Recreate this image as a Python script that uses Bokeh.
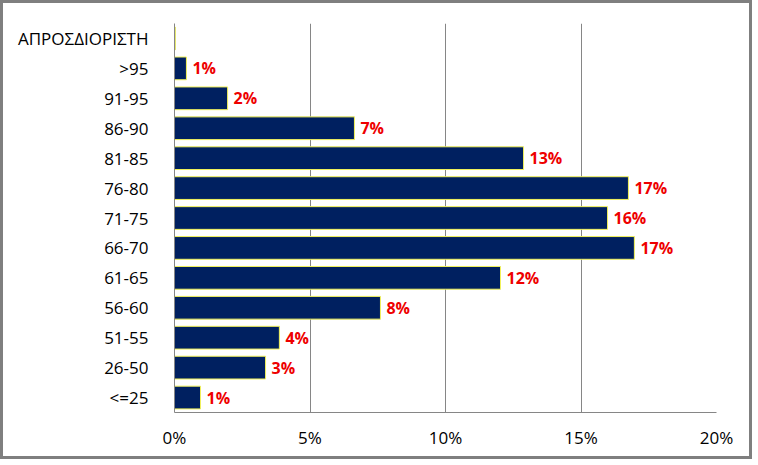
from bokeh.plotting import figure
from bokeh.models import ColumnDataSource, FixedTicker, PrintfTickFormatter, LabelSet
from bokeh.core.properties import value
from bokeh.embed import file_html
from bokeh.resources import INLINE

categories = ["<=25", "26-50", "51-55", "56-60", "61-65", "66-70", "71-75",
              "76-80", "81-85", "86-90", "91-95", ">95", "ΑΠΡΟΣΔΙΟΡΙΣΤΗ"]
values = [0.96, 3.36, 3.87, 7.6, 12.03, 16.97, 15.98, 16.75, 12.88, 6.64, 1.96, 0.44, 0.03]
labels = ["1%", "3%", "4%", "8%", "12%", "17%", "16%", "17%", "13%", "7%", "2%", "1%", ""]
x_ticks = [0, 5, 10, 15, 20]

FONT = "Open Sans"
GRAY = "#868686"

src = ColumnDataSource(dict(cat=categories, val=values, lab=labels))

p = figure(width=752, height=459, y_range=categories, x_range=(0, 20),
           output_backend="svg", toolbar_location=None,
           min_border_left=171, min_border_right=39, min_border_top=20,
           min_border_bottom=50)
p.styles = {"border": "3px solid #7f7f7f"}
p.y_range.range_padding = 0
p.outline_line_color = None
p.background_fill_color = "white"
p.border_fill_color = "white"

p.hbar(y="cat", right="val", left=0, height=0.76, source=src,
       fill_color="#002060", line_color="#f2f25a", line_width=1)

p.add_layout(LabelSet(x="val", y="cat", text="lab", source=src, x_offset=6,
                      text_baseline="middle", text_color="#ee0000",
                      text_font=value(FONT), text_font_style="bold",
                      text_font_size="16px"))

p.xaxis.ticker = FixedTicker(ticks=x_ticks)
p.xaxis.formatter = PrintfTickFormatter(format="%d%%")
for ax in (p.xaxis[0], p.yaxis[0]):
    ax.major_tick_line_color = None
    ax.minor_tick_line_color = None
    ax.axis_line_color = GRAY
    ax.major_label_text_font = FONT
    ax.major_label_text_font_size = "17px"
    ax.major_label_text_color = "black"
p.xaxis.major_label_standoff = 7
p.yaxis.major_label_standoff = 20

p.xgrid.ticker = FixedTicker(ticks=x_ticks)
p.xgrid.grid_line_color = GRAY
p.ygrid.grid_line_color = None

open("out.html", "w").write(file_html(p, INLINE))
